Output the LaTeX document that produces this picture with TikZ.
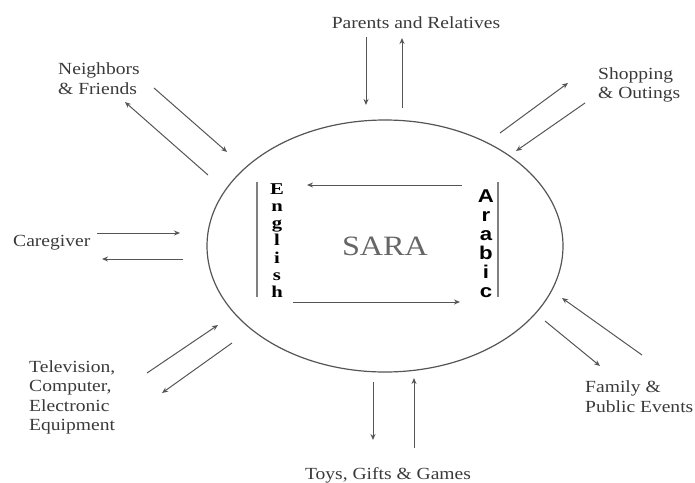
\documentclass[tikz,border=0pt]{standalone}
\usepackage{fontspec}
\setmainfont{Liberation Serif}
\newfontfamily\armfont{Liberation Sans}
\usetikzlibrary{arrows.meta,shapes.geometric}
\definecolor{ink}{HTML}{3A3A3A}
\definecolor{wire}{HTML}{555555}
\tikzset{
  lbl/.style={inner sep=0pt, text=ink, font=\fontsize{17}{19.5}\selectfont, xscale=1.15},
  lblL/.style={lbl, anchor=west, align=left},
  flow/.style={draw=wire, line width=1pt, -{Stealth[length=6pt,width=5pt]}},
  engl/.style={inner sep=0pt, anchor=base, text=black, font=\fontsize{16.5}{16.5}\selectfont\bfseries, xscale=1.25},
  arab/.style={inner sep=0pt, anchor=base, text=black, font=\armfont\fontsize{18.5}{18.5}\selectfont\bfseries, xscale=1.2},
  bar/.style={draw=gray, line width=1.6pt}
}
\begin{document}
\begin{tikzpicture}[x=1pt,y=-1pt]
\useasboundingbox (0,0) rectangle (695,482);
% central ellipse
\node[ellipse, draw=wire, line width=1.2pt, minimum width=356pt, minimum height=252pt, inner sep=0pt,
      text=gray!80!black, font=\fontsize{28}{28}\selectfont] (sara) at (385,246) {\scalebox{1.15}[1]{SARA}};
% English / Arabic columns
\foreach \c [count=\i from 0] in {E,n,g,l,i,s,h}
  \node[engl] (e\i) at (277,194+17.3*\i) {\c};
\foreach \c [count=\i from 0] in {A,r,a,b,i,c}
  \node[arab] (a\i) at (486,202+19*\i) {\c};
\coordinate (lb1) at (257,182); \coordinate (lb2) at (257,297);
\coordinate (rb1) at (498,182); \coordinate (rb2) at (498,297);
\draw[bar] (lb1) -- (lb2);
\draw[bar] (rb1) -- (rb2);
\coordinate (it1) at (462,185); \coordinate (it2) at (307,185);
\coordinate (ib1) at (293,302); \coordinate (ib2) at (460,302);
\draw[flow] (it1) -- (it2);
\draw[flow] (ib1) -- (ib2);
% labels
\node[lbl] (par) at (416,23) {Parents and Relatives};
\node[lblL] (nei) at (58,78.5) {Neighbors\\\& Friends};
\node[lblL] (sho) at (598,85) {Shopping\\\& Outings};
\node[lblL] (car) at (13,243) {Caregiver};
\node[lblL] (tel) at (29,397.5) {Television,\\Computer,\\Electronic\\Equipment};
\node[lblL] (fam) at (585,396.5) {Family \&\\Public Events};
\node[lbl] (toy) at (388,475) {Toys, Gifts \& Games};
% arrow end points
\coordinate (p1a) at (366,37);  \coordinate (p1b) at (366,105);
\coordinate (p2a) at (402,108); \coordinate (p2b) at (402,38);
\coordinate (n1a) at (154,88);  \coordinate (n1b) at (227,152);
\coordinate (n2a) at (208,175); \coordinate (n2b) at (125,102);
\coordinate (s1a) at (500,133); \coordinate (s1b) at (568,83);
\coordinate (s2a) at (585,103); \coordinate (s2b) at (516,151);
\coordinate (c1a) at (97,233);  \coordinate (c1b) at (180,233);
\coordinate (c2a) at (183,259); \coordinate (c2b) at (102,259);
\coordinate (t1a) at (147,373); \coordinate (t1b) at (218,325);
\coordinate (t2a) at (232,343); \coordinate (t2b) at (162,393);
\coordinate (f1a) at (642,355); \coordinate (f1b) at (562,298);
\coordinate (f2a) at (545,321); \coordinate (f2b) at (600,366);
\coordinate (g1a) at (373,382); \coordinate (g1b) at (373,440);
\coordinate (g2a) at (414,448); \coordinate (g2b) at (414,378);
\foreach \a/\b in {p1a/p1b,p2a/p2b,n1a/n1b,n2a/n2b,s1a/s1b,s2a/s2b,c1a/c1b,c2a/c2b,t1a/t1b,t2a/t2b,f1a/f1b,f2a/f2b,g1a/g1b,g2a/g2b}
  \draw[flow] (\a) -- (\b);
\end{tikzpicture}
\end{document}
